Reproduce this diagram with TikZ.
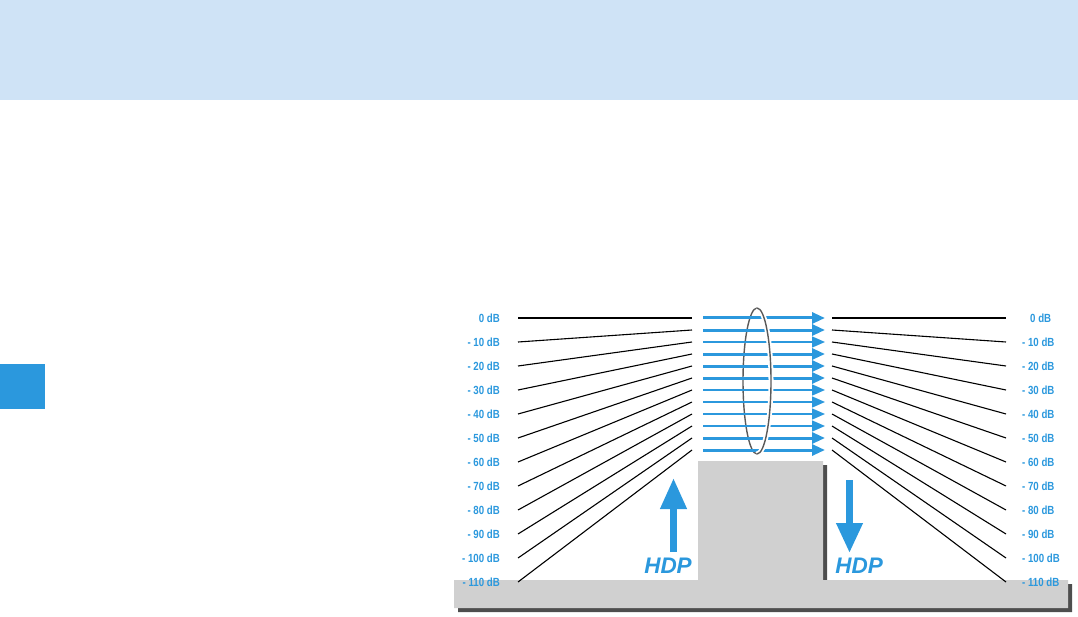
\documentclass[tikz,border=0pt]{standalone}
\usepackage{fontspec}
\usetikzlibrary{arrows.meta}
\newfontfamily\labfont[FakeStretch=0.82]{Liberation Sans}
\newfontfamily\hdpfont{Liberation Sans}
\definecolor{hdpblue}{HTML}{2B98DD}
\definecolor{headblue}{HTML}{CFE3F6}
\definecolor{blockgrey}{HTML}{D0D0D0}
\definecolor{shadowgrey}{HTML}{4E4E4E}
\definecolor{ringgrey}{HTML}{5A5A5A}
\begin{document}
\begin{tikzpicture}[x=1pt,y=-1pt,
  lab/.style={font=\labfont\fontsize{11.8}{13}\selectfont\bfseries, text=hdpblue, inner sep=0pt},
  hdplab/.style={font=\hdpfont\fontsize{22.5}{24}\selectfont\bfseries\itshape, text=hdpblue, inner sep=0pt},
  dbline/.style={black, line width=1.1pt},
  sigarrow/.style={hdpblue, -{Triangle[length=13pt,width=11pt]}},
  bigarrow/.style={hdpblue, line width=7pt},
  ring/.style={ringgrey, line width=1.4pt}]
\useasboundingbox (0,0) rectangle (1078,617);
% header band and side tab
\fill[headblue] (0,0) rectangle (1078,100);
\fill[hdpblue] (0,364) rectangle (45,409);
% grey base with shadow
\fill[shadowgrey] (458,584) -- (702,584) -- (702,465) -- (827,465) -- (827,584) -- (1072,584) -- (1072,612) -- (458,612) -- cycle;
\fill[blockgrey] (454,580) -- (698,580) -- (698,461) -- (823,461) -- (823,580) -- (1068,580) -- (1068,608) -- (454,608) -- cycle;
% ring center
\coordinate (E) at (757,381);
% back half of the ring
\draw[ring] ([shift={(0,73)}]E) arc[start angle=90, end angle=270, x radius=14, y radius=73];
% labels and lines
\foreach \i in {0,...,11}{
  \coordinate (ls\i) at (518,{318+24*\i});
  \coordinate (le\i) at (692,{318+12*\i});
  \coordinate (rs\i) at (832,{318+12*\i});
  \coordinate (re\i) at (1006,{318+24*\i});
  \coordinate (ms\i) at (703,{318+12*\i});
  \coordinate (me\i) at (825,{318+12*\i});
  \node[lab, anchor=east] (ll\i) at (500,{318+24*\i}) {\ifnum\i=0 0 dB\else - \i0 dB\fi};
  \draw[dbline] (ls\i) -- (le\i);
  \draw[dbline] (rs\i) -- (re\i);
}
\foreach \i in {1,...,11}{
  \node[lab, anchor=west] (rl\i) at (1022,{318+24*\i}) {- \i0 dB};
}
\node[lab, anchor=west] (rl0) at (1030,318) {0 dB};
% signal arrows
\foreach \i/\w in {0/3,1/3,2/1.5,3/3,4/3,5/3,6/1.5,7/1.5,8/1.5,9/1.5,10/3,11/3}{
  \draw[sigarrow, line width=\w pt] (ms\i) -- (me\i);
}
% front half of the ring
\draw[white, line width=5pt] ([shift={(0,-73)}]E) arc[start angle=270, end angle=450, x radius=14, y radius=73];
\draw[ring] ([shift={(0,-73)}]E) arc[start angle=270, end angle=450, x radius=14, y radius=73];
% HDP arrows
\coordinate (ua0) at (673.5,552);
\coordinate (ua1) at (673.5,478);
\coordinate (da0) at (849.5,480);
\coordinate (da1) at (849.5,553);
\draw[bigarrow, -{Triangle[length=31pt,width=25pt]}] (ua0) -- (ua1);
\draw[bigarrow, -{Triangle[length=30pt,width=25pt]}] (da0) -- (da1);
\node[hdplab] (hdpL) at (668,566) {HDP};
\node[hdplab] (hdpR) at (859,566) {HDP};
\end{tikzpicture}
\end{document}
